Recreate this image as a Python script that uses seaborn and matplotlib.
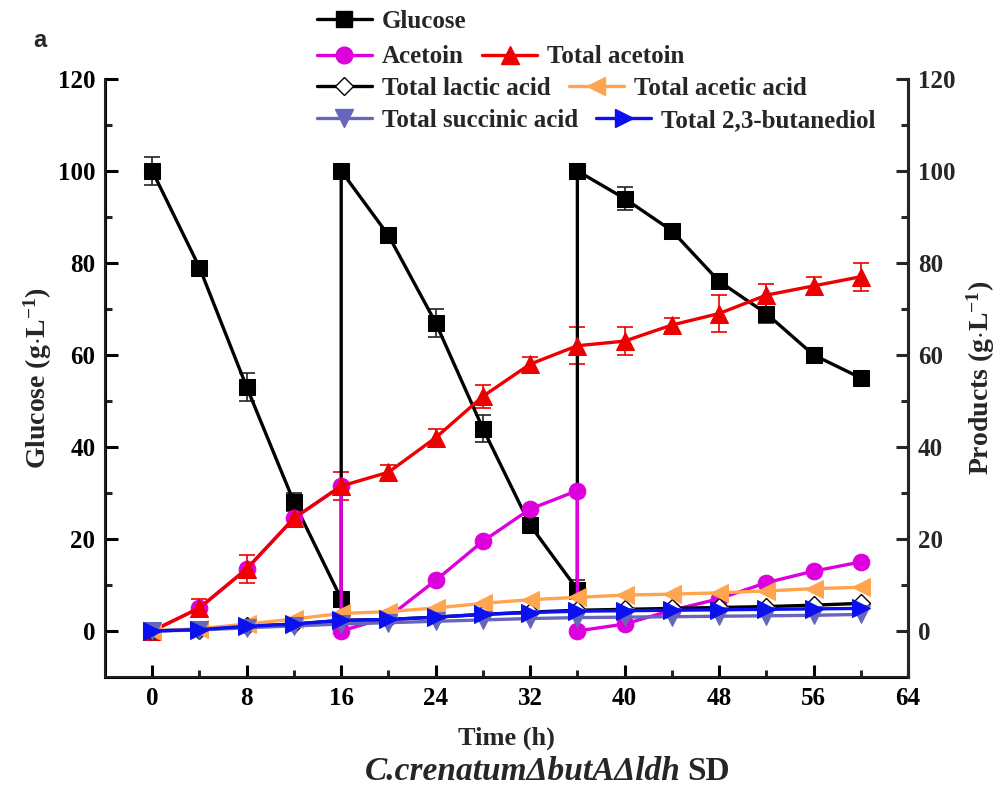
import numpy as np
import pandas as pd
import matplotlib
matplotlib.use("Agg")
import matplotlib.pyplot as plt
from matplotlib.lines import Line2D
import seaborn as sns

sns.set_theme(style="ticks")
plt.rcParams['font.family'] = ['Liberation Serif', 'DejaVu Serif']
plt.rcParams['font.weight'] = 'bold'
plt.rcParams['mathtext.fontset'] = 'custom'
plt.rcParams['mathtext.rm'] = 'Liberation Serif:bold'
plt.rcParams['mathtext.bf'] = 'Liberation Serif:bold'
plt.rcParams['mathtext.default'] = 'bf'

# ---- data ----
glu_t = [0, 4, 8, 12, 16, 16, 20, 24, 28, 32, 36, 36, 40, 44, 48, 52, 56, 60]
glu_v = [100, 79, 53, 28, 7, 100, 86, 67, 44, 23, 9, 100, 94, 87, 76, 69, 60, 55]
glu_e = [3, 1.5, 3, 2, 1, 1.2, 1.5, 3, 3, 1, 2, 1.5, 2.5, 1, 1.5, 2, 0.6, 1.5]

act_t = [0, 4, 8, 12, 16, 16, 20, 24, 28, 32, 36, 36, 40, 44, 48, 52, 56, 60]
act_v = [0, 5, 13.5, 24.5, 31.5, 0, 3, 11, 19.5, 26.5, 30.5, 0, 1.5, 4.5, 7, 10.5, 13, 15]

time = [0, 4, 8, 12, 16, 20, 24, 28, 32, 36, 40, 44, 48, 52, 56, 60]
tot_acetoin = [0, 5, 13.5, 24.5, 31.5, 34.5, 42, 51, 58, 62, 63, 66.5, 69, 73, 75, 77]
tot_acetoin_e = [0.5, 2, 3, 1.5, 3, 1.5, 2, 2.5, 1.5, 4, 3, 1.5, 4, 2.5, 2, 3]
lactic = [0, 0.3, 1.0, 1.5, 2.3, 2.5, 3.0, 3.6, 4.1, 4.5, 4.7, 4.9, 5.1, 5.3, 5.6, 6.0]
acetic = [0, 0.5, 1.5, 2.6, 3.8, 4.2, 5.0, 6.0, 6.8, 7.3, 7.8, 8.0, 8.3, 8.7, 9.2, 9.5]
succinic = [0, 0.2, 0.7, 1.1, 1.5, 1.8, 2.1, 2.4, 2.7, 2.9, 3.0, 3.1, 3.2, 3.3, 3.4, 3.6]
butanediol = [0, 0.3, 1.0, 1.5, 2.3, 2.5, 3.0, 3.6, 4.0, 4.3, 4.4, 4.5, 4.6, 4.7, 4.8, 4.9]

fig = plt.figure(figsize=(10.05, 7.89), dpi=100)
ax = fig.add_axes([0.1045, 0.142, 0.799, 0.758])

lw = 2.4
ms = 11
styles = [
    ("Glucose", glu_t, glu_v, dict(color='black', marker='s', markersize=ms, markerfacecolor='black', markeredgecolor='black')),
    ("Acetoin", act_t, act_v, dict(color='#DD00DD', marker='o', markersize=ms+1, markerfacecolor='#DD00DD', markeredgecolor='#DD00DD')),
    ("Total acetoin", time, tot_acetoin, dict(color='#EE0000', marker='^', markersize=ms+2, markerfacecolor='#EE0000', markeredgecolor='#EE0000')),
    ("Total lactic acid", time, lactic, dict(color='black', marker='D', markersize=ms-2, markerfacecolor='white', markeredgecolor='black', markeredgewidth=1.0)),
    ("Total acetic acid", time, acetic, dict(color='#FFA54F', marker='<', markersize=ms+2, markerfacecolor='#FFA54F', markeredgecolor='#FFA54F')),
    ("Total succinic acid", time, succinic, dict(color='#6666BB', marker='v', markersize=ms+2, markerfacecolor='#6666BB', markeredgecolor='#6666BB')),
    ("Total 2,3-butanediol", time, butanediol, dict(color='#0A10EE', marker='>', markersize=ms+2, markerfacecolor='#0A10EE', markeredgecolor='#0A10EE')),
]

handles = {}
for name, tx, vy, kw in styles:
    sns.lineplot(x=tx, y=vy, sort=False, estimator=None, ax=ax, linewidth=lw, **kw)
    handles[name] = Line2D([], [], linewidth=lw, **kw)

ax.errorbar(glu_t, glu_v, yerr=glu_e, fmt='none', ecolor='#222222', elinewidth=1.2, capsize=6, capthick=1.2, zorder=1)
ax.errorbar(time, tot_acetoin, yerr=tot_acetoin_e, fmt='none', ecolor='#EE0000', elinewidth=1.2, capsize=6, capthick=1.2, zorder=1)

ax.set_xlim(-4, 64)
ax.set_ylim(-10, 120)
ax.set_xticks(np.arange(0, 65, 8))
ax.set_xticks(np.arange(4, 64, 8), minor=True)
ax.set_yticks(np.arange(0, 121, 20))
ax.set_yticks(np.arange(10, 120, 20), minor=True)
ax.spines['top'].set_visible(False)
for s in ['left', 'bottom', 'right']:
    ax.spines[s].set_linewidth(2.2)
    ax.spines[s].set_color('black')
ax.tick_params(axis='both', which='major', direction='in', length=9, width=2.2, labelsize=18, pad=7, colors='black')
ax.tick_params(axis='both', which='minor', direction='in', length=5, width=2.2)
for lab in ax.get_xticklabels() + ax.get_yticklabels():
    lab.set_fontweight('bold')
ax.set_xlabel("Time (h)", fontsize=19, fontweight='bold', labelpad=12)
ax.set_ylabel(r"Glucose (g$\cdot$L$^{-1}$)", fontsize=20, fontweight='bold', labelpad=3)

ax2 = ax.twinx()
ax2.set_ylim(-10, 120)
ax2.set_yticks(np.arange(0, 121, 20))
ax2.set_yticks(np.arange(10, 120, 20), minor=True)
ax2.spines['top'].set_visible(False)
ax2.spines['right'].set_linewidth(2.2)
ax2.tick_params(axis='y', which='major', direction='in', length=9, width=2.2, labelsize=18, pad=7)
ax2.tick_params(axis='y', which='minor', direction='in', length=5, width=2.2)
for lab in ax2.get_yticklabels():
    lab.set_fontweight('bold')
ax2.set_ylabel(r"Products (g$\cdot$L$^{-1}$)", fontsize=20, fontweight='bold', labelpad=7)
ax2.grid(False)
ax.grid(False)

# legend rows
rows = [
    (["Glucose"], 0.973),
    (["Acetoin", "Total acetoin"], 0.928),
    (["Total lactic acid", "Total acetic acid"], 0.888),
    (["Total succinic acid", "Total 2,3-butanediol"], 0.847),
]
for names, y0 in rows:
    leg = fig.legend([handles[n] for n in names], names, loc='center left',
                     bbox_to_anchor=(0.315, y0), ncol=len(names), frameon=False,
                     handlelength=2.2, handletextpad=0.4, columnspacing=0.75,
                     prop={'family': 'Liberation Serif', 'weight': 'bold', 'size': 18},
                     borderaxespad=0, borderpad=0)

fig.text(0.033, 0.949, "a", fontsize=17, fontweight='bold', ha='left', va='center',
         family=['Liberation Sans', 'DejaVu Sans'])

t1 = fig.text(0.363, 0.022, "C.crenatum\u0394butA\u0394ldh", fontsize=24, fontweight='bold', style='italic', ha='left', va='center')
fig.canvas.draw()
bb = t1.get_window_extent()
fig.text(bb.x1 / fig.bbox.width + 0.007, 0.022, "SD", fontsize=24, fontweight='bold', ha='left', va='center')

fig.savefig("out.png", dpi=100)
